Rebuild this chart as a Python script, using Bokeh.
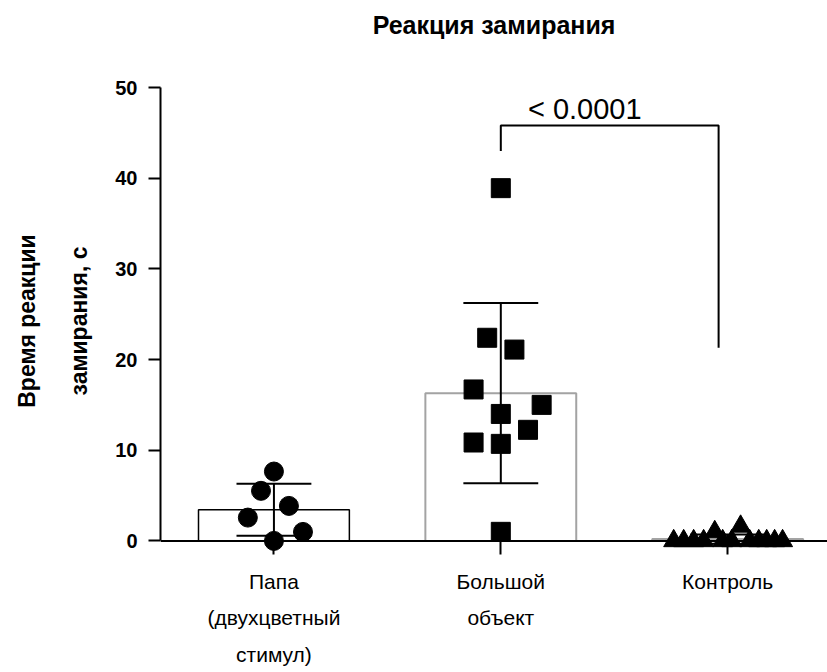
import numpy as np
from bokeh.plotting import figure
from bokeh.models import Range1d, FixedTicker, Span, Label, ColumnDataSource, Title
from bokeh.embed import file_html
from bokeh.resources import INLINE

# ---------------- data ----------------
title_text = "Реакция замирания"
y_label = "Время реакции\nзамирания, с"
categories = ["Папа\n(двухцветный\nстимул)", "Большой\nобъект", "Контроль"]
cat_pos = [1, 2, 3]
y_ticks = [0, 10, 20, 30, 40, 50]

papa_values = [7.65, 5.52, 3.86, 2.57, 0.99, 0.0]
papa_offsets = [0.0, -0.057, 0.066, -0.115, 0.128, 0.0]

big_values = [38.9, 22.4, 21.1, 16.7, 15.0, 14.0, 12.25, 10.85, 10.7, 1.0]
big_offsets = [0.0, -0.06, 0.06, -0.12, 0.18, 0.0, 0.12, -0.12, 0.0, 0.0]

control_values = [0, 0, 0, 0, 1.0, 0, 0, 1.6, 0, 0, 0, 0, 0]
control_offsets = [-0.238, -0.194, -0.150, -0.106, -0.057, -0.022, 0.018,
                   0.057, 0.097, 0.137, 0.172, 0.207, 0.242]

p_value_text = "< 0.0001"
bracket_y_left = 43.0
bracket_y_top = 45.8
bracket_y_right = 21.3

FONT = "Liberation Sans"

groups = [papa_values, big_values, control_values]
means = [float(np.mean(g)) for g in groups]
sds = [float(np.std(g, ddof=1)) for g in groups]

p = figure(width=827, height=672, output_backend="svg", toolbar_location=None,
           title=None,
           x_range=Range1d(0.5, 3.44), y_range=Range1d(-1.5, 50),
           min_border_left=160, min_border_right=0, min_border_top=87,
           min_border_bottom=118)
p.outline_line_color = None
p.grid.visible = False
p.background_fill_color = "white"
p.border_fill_color = "white"

# spacer between frame and title, then the title itself
p.add_layout(Title(text=" ", text_font_size="10px", standoff=36), "above")
p.add_layout(Title(text=title_text, align="center", text_font=FONT,
                   text_font_size="25px", text_font_style="bold",
                   text_color="black", standoff=0), "above")

# x axis
xa = p.xaxis[0]
xa.ticker = FixedTicker(ticks=cat_pos)
xa.major_label_overrides = {k: v for k, v in zip(cat_pos, categories)}
xa.axis_line_color = None
xa.major_tick_in = 14
xa.major_tick_out = 0
xa.major_tick_line_width = 2
xa.minor_tick_line_color = None
xa.major_label_text_font = FONT
xa.major_label_text_font_size = "21px"
xa.major_label_text_line_height = 1.6
xa.major_label_standoff = 15
xa.major_label_text_color = "black"

# y axis
ya = p.yaxis[0]
ya.ticker = FixedTicker(ticks=y_ticks)
ya.bounds = (0, 50)
ya.axis_line_width = 2
ya.major_tick_out = 12
ya.major_tick_in = 0
ya.major_tick_line_width = 2
ya.minor_tick_line_color = None
ya.major_label_text_font = FONT
ya.major_label_text_font_size = "20px"
ya.major_label_text_font_style = "bold"
ya.major_label_text_color = "black"
ya.major_label_standoff = 11
ya.axis_label = y_label
ya.axis_label_text_font = FONT
ya.axis_label_text_font_size = "23px"
ya.axis_label_text_font_style = "bold"
ya.axis_label_text_line_height = 2.0
ya.axis_label_standoff = 20
ya.axis_label_text_color = "black"

# bars
bar_src = ColumnDataSource(dict(x=cat_pos, top=means,
                                line=["black", "#a3a3a3", "#a3a3a3"],
                                lw=[1.5, 2, 2]))
p.vbar(x="x", top="top", bottom=0, width=0.665, source=bar_src,
       fill_color="white", line_color="line", line_width="lw")

# x axis line at zero
p.add_layout(Span(location=0, dimension="width", line_color="black", line_width=2))

# error bars
cap_half = 0.165
for xc, m, s in zip(cat_pos, means, sds):
    p.segment(x0=[xc], y0=[m - s], x1=[xc], y1=[m + s], line_color="black", line_width=2)
    p.segment(x0=[xc - cap_half, xc - cap_half], y0=[m - s, m + s],
              x1=[xc + cap_half, xc + cap_half], y1=[m - s, m + s],
              line_color="black", line_width=2)

# points
p.scatter(x=[cat_pos[0] + o for o in papa_offsets], y=papa_values,
          marker="circle", size=19, fill_color="black", line_color="black")
p.scatter(x=[cat_pos[1] + o for o in big_offsets], y=big_values,
          marker="square", size=19, fill_color="black", line_color="black")
p.scatter(x=[cat_pos[2] + o for o in control_offsets], y=control_values,
          marker="triangle", size=20, fill_color="black", line_color="black")

# significance bracket
bx0 = cat_pos[1]
bx1 = cat_pos[2] - 0.04
p.line(x=[bx0, bx0, bx1, bx1],
       y=[bracket_y_left, bracket_y_top, bracket_y_top, bracket_y_right],
       line_color="black", line_width=2)
p.add_layout(Label(x=2.37, y=47.6, text=p_value_text, text_align="center",
                   text_baseline="alphabetic", text_font=FONT,
                   text_font_size="29px", text_color="black"))

open("out.html", "w").write(file_html(p, INLINE))
